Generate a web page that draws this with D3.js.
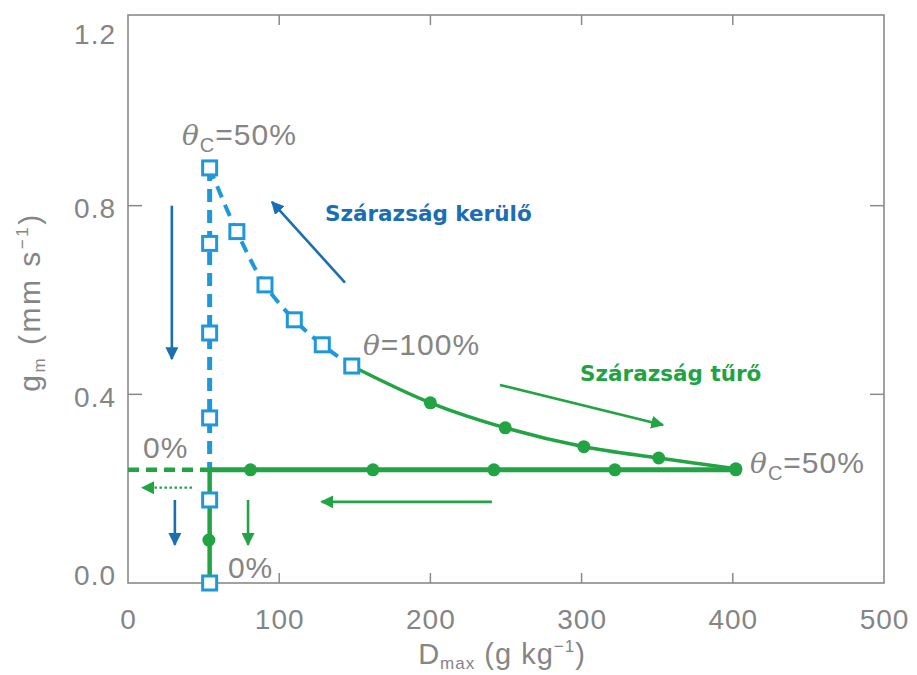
<!DOCTYPE html>
<html>
<head>
<meta charset="utf-8">
<script src="https://cdn.jsdelivr.net/npm/d3@7"></script>
<style>
  html, body { margin: 0; padding: 0; background: #fff; }
  svg { display: block; }
  .gray { font-family: "Liberation Sans", Arial, sans-serif; fill: #858585; letter-spacing: 1px; }
  .lab { font-family: "DejaVu Sans", sans-serif; font-weight: bold; }
</style>
</head>
<body>
<svg id="chart" width="917" height="675"></svg>
<script>
// ---------- data ----------
const xTicks = [0, 100, 200, 300, 400, 500];
const yTicks = [0.0, 0.4, 0.8, 1.2];
const yTickLabels = ["0.0", "0.4", "0.8", "1.2"];

// Drought avoider (blue squares): vertical branch at Dmax ≈ 54
const avoiderVertical = [
  {x: 54, y: 0.88}, {x: 54, y: 0.72}, {x: 54, y: 0.53},
  {x: 54, y: 0.35}, {x: 54, y: 0.176}, {x: 54, y: 0.0}
];
// Drought avoider curve (theta 100% -> 50%)
const avoiderCurve = [
  {x: 54, y: 0.88}, {x: 72, y: 0.745}, {x: 90.6, y: 0.632},
  {x: 110, y: 0.558}, {x: 128.5, y: 0.505}, {x: 148, y: 0.46}
];
// Drought tolerant (green dots): upper curve
const tolerantCurve = [
  {x: 148, y: 0.46}, {x: 200, y: 0.382}, {x: 249.5, y: 0.329},
  {x: 301.5, y: 0.289}, {x: 351, y: 0.265}, {x: 402, y: 0.242}
];
const tolerantCurveDots = tolerantCurve.slice(1);
// Drought tolerant horizontal branch
const tolerantHorizontal = [
  {x: 54, y: 0.24}, {x: 81, y: 0.24}, {x: 162, y: 0.24},
  {x: 242, y: 0.24}, {x: 322, y: 0.24}, {x: 402, y: 0.24}
];
const tolerantHorizDots = tolerantHorizontal.slice(1);
const tolerantDashed = [{x: 0, y: 0.24}, {x: 54, y: 0.24}];
const tolerantVertical = [{x: 54, y: 0.24}, {x: 54, y: 0.0}];
const tolerantVertDots = [{x: 53.5, y: 0.091}];

// annotation arrows (data units): from -> to
const blueArrows = [
  {x1: 143.5, y1: 0.637, x2: 95.2, y2: 0.808},
  {x1: 29, y1: 0.80, x2: 29, y2: 0.475},
  {x1: 31, y1: 0.176, x2: 31, y2: 0.081}
];
const greenArrows = [
  {x1: 79.4, y1: 0.176, x2: 79.4, y2: 0.081},
  {x1: 240.7, y1: 0.172, x2: 128, y2: 0.172},
  {x1: 246, y1: 0.420, x2: 353.8, y2: 0.335}
];
const greenDottedArrows = [
  {x1: 42.3, y1: 0.202, x2: 9.5, y2: 0.202}
];

// text annotations
const grayNotes = [
  {x: 35.7, y: 0.929, main: "θ", sub: "C", rest: "=50%"},
  {x: 155.4, y: 0.484, main: "θ", sub: "", rest: "=100%"},
  {x: 411.4, y: 0.233, main: "θ", sub: "C", rest: "=50%"},
  {x: 9.9, y: 0.265, main: "", sub: "", rest: "0%"},
  {x: 66.1, y: 0.011, main: "", sub: "", rest: "0%"}
];
const colorNotes = [
  {x: 130.3, y: 0.768, text: "Szárazság kerülő", color: "#1b6db4"},
  {x: 299, y: 0.429, text: "Szárazság tűrő", color: "#21a343"}
];

// ---------- layout ----------
const W = 917, H = 675;
const margin = {left: 128, top: 15, right: 33, bottom: 92};
const iw = W - margin.left - margin.right;
const ih = H - margin.top - margin.bottom;

const svg = d3.select("#chart");
const g = svg.append("g").attr("transform", `translate(${margin.left},${margin.top})`);

const x = d3.scaleLinear().domain([0, 500]).range([0, iw]);
const y = d3.scaleLinear().domain([0, 1.2]).range([ih, 2]);

const BLUE = "#1e98d8";
const GREEN = "#22a444";
const DBLUE = "#1b6db4";
const FRAME = "#8a8a8a";

// markers
const defs = svg.append("defs");
function mk(id, color) {
  defs.append("marker").attr("id", id)
    .attr("viewBox", "0 0 10 10").attr("refX", 9).attr("refY", 5)
    .attr("markerWidth", 5).attr("markerHeight", 5)
    .attr("markerUnits", "strokeWidth")
    .attr("orient", "auto")
    .append("path").attr("d", "M0,0 L10,5 L0,10 Z").attr("fill", color);
}
mk("ahBlue", DBLUE);
mk("ahGreen", GREEN);
defs.append("marker").attr("id", "ahGreenS")
  .attr("viewBox", "0 0 10 10").attr("refX", 9).attr("refY", 5)
  .attr("markerWidth", 6).attr("markerHeight", 6)
  .attr("markerUnits", "strokeWidth").attr("orient", "auto")
  .append("path").attr("d", "M0,0 L10,5 L0,10 Z").attr("fill", GREEN);

// ---------- frame & axes ----------
g.append("rect").attr("x", 0).attr("y", 0).attr("width", iw).attr("height", ih)
  .attr("fill", "none").attr("stroke", FRAME).attr("stroke-width", 1.6);

// bottom axis labels
const xAxis = d3.axisBottom(x).tickValues(xTicks).tickSize(0).tickPadding(26)
  .tickFormat(d3.format("d"));
const gx = g.append("g").attr("transform", `translate(0,${ih})`).call(xAxis);
gx.select(".domain").remove();
gx.selectAll("text").attr("class", "gray").style("font-size", "28px").attr("fill", "#858585");

// y axis labels
const yAxis = d3.axisLeft(y).tickValues(yTicks).tickSize(0).tickPadding(12)
  .tickFormat((d, i) => yTickLabels[i]);
const gy = g.append("g").call(yAxis);
gy.select(".domain").remove();
gy.selectAll("text").attr("class", "gray").style("font-size", "28px").attr("fill", "#858585")
  .attr("dy", (d) => d === 1.2 ? "0.95em" : (d === 0 ? "0.05em" : "0.42em"));

// inner ticks
const innerX = xTicks.filter(d => d > 0 && d < 500);
const innerY = yTicks.filter(d => d > 0 && d < 1.2);
g.selectAll(".tb").data(innerX).join("line")
  .attr("x1", d => x(d)).attr("x2", d => x(d)).attr("y1", ih).attr("y2", ih - 10)
  .attr("stroke", FRAME).attr("stroke-width", 1.5);
g.selectAll(".tt").data(innerX).join("line")
  .attr("x1", d => x(d)).attr("x2", d => x(d)).attr("y1", 0).attr("y2", 10)
  .attr("stroke", FRAME).attr("stroke-width", 1.5);
g.selectAll(".tl").data(innerY).join("line")
  .attr("x1", 0).attr("x2", 14).attr("y1", d => y(d)).attr("y2", d => y(d))
  .attr("stroke", FRAME).attr("stroke-width", 1.5);
g.selectAll(".tr").data(innerY).join("line")
  .attr("x1", iw).attr("x2", iw - 14).attr("y1", d => y(d)).attr("y2", d => y(d))
  .attr("stroke", FRAME).attr("stroke-width", 1.5);

// axis titles
const xt = svg.append("text").attr("class", "gray")
  .attr("x", margin.left + x(250) - 4).attr("y", 664)
  .attr("text-anchor", "middle").style("font-size", "29px");
xt.append("tspan").text("D");
xt.append("tspan").text("max").style("font-size", "17px").attr("dy", "5");
xt.append("tspan").text(" (g kg").attr("dy", "-5");
xt.append("tspan").text("−1").style("font-size", "17px").attr("dy", "-12");
xt.append("tspan").text(")").attr("dy", "12");

const yt = svg.append("text").attr("class", "gray")
  .attr("transform", `translate(40,${margin.top + y(0.6) + 2}) rotate(-90)`)
  .attr("text-anchor", "middle").style("font-size", "30px").style("letter-spacing", "2.5px");
yt.append("tspan").text("g");
yt.append("tspan").text("m").style("font-size", "17px").attr("dy", "5");
yt.append("tspan").text(" (mm s").attr("dy", "-5");
yt.append("tspan").text("−1").style("font-size", "17px").attr("dy", "-12");
yt.append("tspan").text(")").attr("dy", "12");

// ---------- series ----------
const line = d3.line().x(d => x(d.x)).y(d => y(d.y));
const curve = d3.line().x(d => x(d.x)).y(d => y(d.y)).curve(d3.curveCatmullRom.alpha(0.5));

// blue dashed vertical (top to horizontal branch)
g.append("path").datum([{x: 54, y: 0.88}, {x: 54, y: 0.24}])
  .attr("d", line).attr("fill", "none").attr("stroke", BLUE)
  .attr("stroke-width", 5).attr("stroke-dasharray", "13,8");

// green dashed horizontal to the left
g.append("path").datum(tolerantDashed)
  .attr("d", line).attr("fill", "none").attr("stroke", GREEN)
  .attr("stroke-width", 4.5).attr("stroke-dasharray", "11,7");

// green solid horizontal
g.append("path").datum(tolerantHorizontal)
  .attr("d", line).attr("fill", "none").attr("stroke", GREEN).attr("stroke-width", 5);

// green solid vertical
g.append("path").datum(tolerantVertical)
  .attr("d", line).attr("fill", "none").attr("stroke", GREEN).attr("stroke-width", 4.5);

// green curve
g.append("path").datum(tolerantCurve)
  .attr("d", curve).attr("fill", "none").attr("stroke", GREEN).attr("stroke-width", 3.5);

// blue dashed curve
g.append("path").datum(avoiderCurve)
  .attr("d", curve).attr("fill", "none").attr("stroke", BLUE)
  .attr("stroke-width", 4).attr("stroke-dasharray", "12,8");

// green dots
g.selectAll(".gd").data(tolerantCurveDots.concat(tolerantHorizDots, tolerantVertDots)).join("circle")
  .attr("cx", d => x(d.x)).attr("cy", d => y(d.y)).attr("r", 6.5).attr("fill", GREEN);

// blue squares
const S = 14;
const sq = avoiderVertical.concat(avoiderCurve.slice(1));
g.selectAll(".bs").data(sq).join("rect")
  .attr("x", d => x(d.x) - S / 2).attr("y", d => y(d.y) - S / 2)
  .attr("width", S).attr("height", S)
  .attr("fill", "#fff").attr("stroke", BLUE).attr("stroke-width", 3);

// ---------- arrows ----------
g.selectAll(".ba").data(blueArrows).join("line")
  .attr("x1", d => x(d.x1)).attr("y1", d => y(d.y1))
  .attr("x2", d => x(d.x2)).attr("y2", d => y(d.y2))
  .attr("stroke", DBLUE).attr("stroke-width", 2.6).attr("marker-end", "url(#ahBlue)");
g.selectAll(".ga").data(greenArrows).join("line")
  .attr("x1", d => x(d.x1)).attr("y1", d => y(d.y1))
  .attr("x2", d => x(d.x2)).attr("y2", d => y(d.y2))
  .attr("stroke", GREEN).attr("stroke-width", 2.6).attr("marker-end", "url(#ahGreen)");
g.selectAll(".gda").data(greenDottedArrows).join("line")
  .attr("x1", d => x(d.x1)).attr("y1", d => y(d.y1))
  .attr("x2", d => x(d.x2)).attr("y2", d => y(d.y2))
  .attr("stroke", GREEN).attr("stroke-width", 2.2).attr("stroke-dasharray", "2.5,2.5")
  .attr("marker-end", "url(#ahGreenS)");

// ---------- texts ----------
grayNotes.forEach(n => {
  const t = g.append("text").attr("class", "gray")
    .attr("x", x(n.x)).attr("y", y(n.y)).style("font-size", "30px");
  if (n.main) t.append("tspan").text(n.main).style("font-style", "italic")
    .style("font-family", "'DejaVu Serif', serif").style("font-size", "28px");
  if (n.sub) {
    t.append("tspan").text(n.sub).style("font-size", "20px").attr("dy", "7");
    t.append("tspan").text(n.rest).attr("dy", "-7");
  } else {
    t.append("tspan").text(n.rest);
  }
});

g.selectAll(".cn").data(colorNotes).join("text")
  .attr("class", "lab")
  .attr("x", d => x(d.x)).attr("y", d => y(d.y))
  .attr("fill", d => d.color).style("font-size", "21.5px")
  .text(d => d.text);
</script>
</body>
</html>
